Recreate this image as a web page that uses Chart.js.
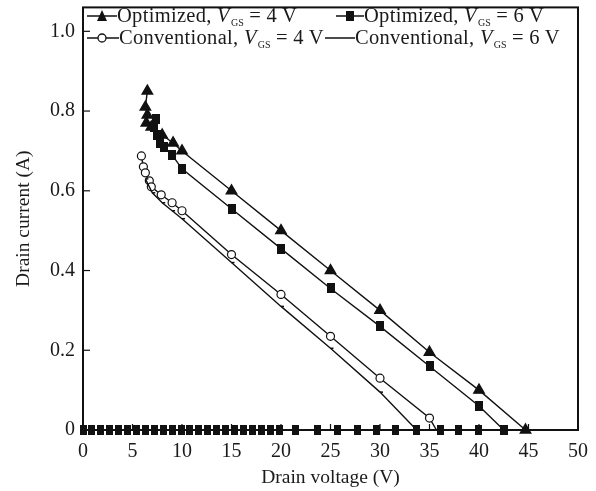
<!DOCTYPE html>
<html lang="en">
<head>
<meta charset="UTF-8">
<title>Drain current vs drain voltage</title>
<script src="https://cdn.jsdelivr.net/npm/chart.js"></script>
<style>
  html, body { margin: 0; padding: 0; background: #fff; }
  #wrap { position: relative; width: 596px; height: 491px; }
  #legend { position: absolute; left: 0; top: 0; font-family: "Liberation Serif", "Times New Roman", serif; font-size: 20.5px; letter-spacing: 0.3px; color: #1a1a1a; }
  .item { position: absolute; white-space: nowrap; line-height: 22px; height: 22px; }
  .item svg { vertical-align: middle; margin-top: -3px; }
  .item sub { font-size: 10px; vertical-align: -4px; margin-left: 1px; letter-spacing: 0; }
</style>
</head>
<body>
<div id="wrap">
  <canvas id="ivChart" width="596" height="491"></canvas>
  <div id="legend">
    <div class="item" style="left:87px; top:4px;">
      <svg width="30" height="14"><line x1="0" y1="7" x2="30" y2="7" stroke="#111" stroke-width="1.5"/><polygon points="15,1 20,12 10,12" fill="#111"/></svg>Optimized, <i>V</i><sub>GS</sub> = 4 V
    </div>
    <div class="item" style="left:336px; top:4px;">
      <svg width="28" height="14"><line x1="0" y1="7" x2="28" y2="7" stroke="#111" stroke-width="1.5"/><rect x="10" y="2" width="8" height="10" fill="#111"/></svg>Optimized, <i>V</i><sub>GS</sub> = 6 V
    </div>
    <div class="item" style="left:87px; top:26px;">
      <svg width="32" height="14"><line x1="0" y1="7" x2="32" y2="7" stroke="#111" stroke-width="1.5"/><circle cx="15" cy="7" r="4" fill="#fff" stroke="#111" stroke-width="1.3"/></svg>Conventional, <i>V</i><sub>GS</sub> = 4 V
    </div>
    <div class="item" style="left:325px; top:26px;">
      <svg width="30" height="14"><line x1="0" y1="7" x2="30" y2="7" stroke="#111" stroke-width="1.5"/></svg>Conventional, <i>V</i><sub>GS</sub> = 6 V
    </div>
  </div>
</div>
<script>
// drain voltage (V) / drain current (A)
const optX4 = [6.5, 6.3, 6.5, 6.4, 6.9, 8.0, 9.1, 10, 15, 20, 25, 30, 35, 40, 44.7];
const optY4 = [0.85, 0.81, 0.79, 0.77, 0.76, 0.74, 0.72, 0.70, 0.60, 0.50, 0.40, 0.30, 0.195, 0.10, 0];

const optX6 = [7.4, 7.2, 7.5, 7.8, 8.2, 9.0, 10, 15, 20, 25, 30, 35, 40, 42.5];
const optY6 = [0.78, 0.76, 0.74, 0.72, 0.71, 0.69, 0.655, 0.555, 0.455, 0.355, 0.26, 0.16, 0.06, 0];

const convX4 = [5.9, 6.1, 6.3, 6.7, 6.9, 7.9, 9.0, 10, 15, 20, 25, 30, 35, 35.7];
const convY4 = [0.6875, 0.66, 0.645, 0.625, 0.61, 0.59, 0.57, 0.55, 0.44, 0.34, 0.235, 0.13, 0.03, 0];

const convX6 = [6.3, 7.0, 8.0, 9.0, 10, 15, 20, 25, 30, 33.7];
const convY6 = [0.63, 0.595, 0.57, 0.55, 0.53, 0.42, 0.31, 0.205, 0.095, 0];

// points sitting on zero current
const zeroX = [0, 0.9, 1.8, 2.7, 3.6, 4.5, 5.4, 6.3, 7.2, 8.1, 9.0, 9.9, 10.8, 11.7, 12.6, 13.5, 14.4, 15.3, 16.2, 17.1, 18.0, 18.9, 19.8,
               21.5, 23.7, 25.7, 27.7, 29.6, 31.6, 33.7, 36.1, 37.9, 39.9, 42.5];

const yTicks = [0, 0.2, 0.4, 0.6, 0.8, 1.0];

function pts(xs, ys) {
    return xs.map((x, i) => ({ x: x, y: ys ? ys[i] : 0 }));
}

// small filled block used as a marker
function block(w, h) {
    const c = document.createElement('canvas');
    c.width = w; c.height = h;
    const g = c.getContext('2d');
    g.fillStyle = '#111';
    g.fillRect(0, 0, w, h);
    return c;
}

const serif = "'Liberation Serif', 'Times New Roman', serif";
const ink = '#111';

// box around the plot + inward ticks
const frame = {
    id: 'frame',
    afterDraw(chart) {
        const { ctx, chartArea: a, scales } = chart;
        ctx.save();
        ctx.strokeStyle = ink;
        ctx.lineWidth = 1.2;
        yTicks.forEach(v => {
            const y = scales.y.getPixelForValue(v);
            ctx.beginPath(); ctx.moveTo(a.left, y); ctx.lineTo(a.left + 7, y); ctx.stroke();
        });
        for (let v = 0; v <= 50; v += 5) {
            const x = scales.x.getPixelForValue(v);
            ctx.beginPath(); ctx.moveTo(x, a.bottom); ctx.lineTo(x, a.bottom - 6); ctx.stroke();
        }
        ctx.lineWidth = 2;
        ctx.strokeRect(a.left, a.top, a.right - a.left, a.bottom - a.top);
        ctx.restore();
    }
};

const ctx = document.getElementById('ivChart').getContext('2d');
new Chart(ctx, {
    type: 'scatter',
    data: {
        datasets: [
            {
                label: 'zero',
                data: pts(zeroX),
                showLine: true,
                borderColor: ink, borderWidth: 2.2,
                pointStyle: block(7, 10),
                clip: false
            },
            {
                label: 'Conventional, VGS = 6 V',
                data: pts(convX6, convY6),
                showLine: true,
                borderColor: ink, borderWidth: 1.4,
                pointStyle: 'dash', pointRadius: 3, pointBorderWidth: 1.5,
                pointBorderColor: ink,
                clip: false
            },
            {
                label: 'Conventional, VGS = 4 V',
                data: pts(convX4, convY4),
                showLine: true,
                borderColor: ink, borderWidth: 1.4,
                pointStyle: 'circle',
                pointRadius: c => c.dataIndex === convX4.length - 1 ? 0 : 4,
                backgroundColor: '#fff', pointBorderColor: ink, pointBorderWidth: 1.2,
                clip: false
            },
            {
                label: 'Optimized, VGS = 6 V',
                data: pts(optX6, optY6),
                showLine: true,
                borderColor: ink, borderWidth: 1.4,
                pointStyle: block(8, 10),
                clip: false
            },
            {
                label: 'Optimized, VGS = 4 V',
                data: pts(optX4, optY4),
                showLine: true,
                borderColor: ink, borderWidth: 1.4,
                pointStyle: 'triangle', pointRadius: 6,
                backgroundColor: ink, pointBorderColor: ink,
                clip: false
            }
        ]
    },
    options: {
        responsive: false,
        animation: false,
        layout: { padding: { left: 0, right: 18, top: 5, bottom: 0 } },
        plugins: {
            legend: { display: false },
            tooltip: { enabled: false }
        },
        scales: {
            x: {
                type: 'linear',
                min: 0, max: 50,
                grid: { display: false, drawTicks: false },
                border: { display: false },
                ticks: { stepSize: 5, padding: 10, color: '#1a1a1a', font: { family: serif, size: 20 } },
                title: { display: true, text: 'Drain voltage (V)', color: '#1a1a1a', font: { family: serif, size: 19.5 }, padding: { top: 0, bottom: 1 } },
                afterFit(scale) { scale.height = 61; scale.paddingLeft = 0; scale.paddingRight = 0; }
            },
            y: {
                min: 0, max: 1.06,
                grid: { display: false, drawTicks: false },
                border: { display: false },
                afterBuildTicks(scale) { scale.ticks = yTicks.map(v => ({ value: v })); },
                ticks: {
                    padding: 8, color: '#1a1a1a', font: { family: serif, size: 20 },
                    callback: v => v === 0 ? '0' : v.toFixed(1)
                },
                title: { display: true, text: 'Drain current (A)', color: '#1a1a1a', font: { family: serif, size: 19.5 }, padding: { top: 12, bottom: 0 } },
                afterFit(scale) { scale.width = 83; scale.paddingTop = 0; scale.paddingBottom = 0; }
            }
        }
    },
    plugins: [frame]
});
</script>
</body>
</html>
